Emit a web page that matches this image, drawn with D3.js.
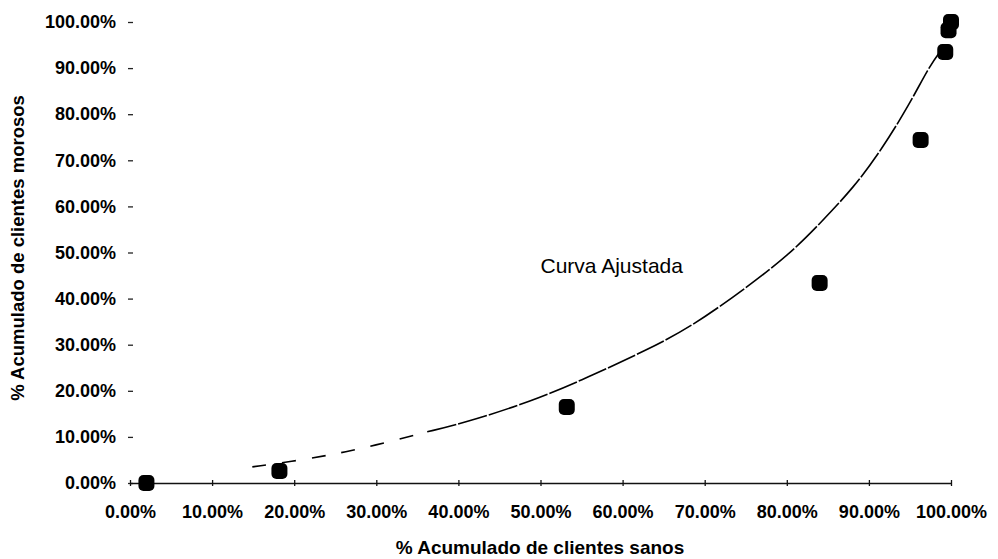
<!DOCTYPE html>
<html>
<head>
<meta charset="utf-8">
<script src="https://cdn.jsdelivr.net/npm/d3@7"></script>
<style>
  body { margin: 0; background: #fff; }
  text { font-family: "Liberation Sans", Arial, sans-serif; fill: #000; }
  .axis text { font-size: 18px; font-weight: bold; }
  .axis-title { font-weight: bold; }
</style>
</head>
<body>
<script>
  // observed points (cumulative share of healthy vs. delinquent clients)
  var sanos   = [0.020, 0.182, 0.532, 0.840, 0.963, 0.993, 0.997, 1.000];
  var morosos = [0.000, 0.026, 0.165, 0.434, 0.744, 0.935, 0.982, 1.000];

  // fitted curve
  var curvaX = [0.149, 0.210, 0.256, 0.295, 0.362, 0.406, 0.488, 0.559, 0.630, 0.683,
                0.752, 0.805, 0.841, 0.882, 0.915, 0.949, 0.973, 0.988];
  var curvaY = [0.035, 0.050, 0.065, 0.080, 0.111, 0.130, 0.176, 0.230, 0.289, 0.338,
                0.425, 0.499, 0.564, 0.642, 0.722, 0.820, 0.902, 0.939];

  var ticks = [0, 0.1, 0.2, 0.3, 0.4, 0.5, 0.6, 0.7, 0.8, 0.9, 1];

  var w = 998;
  var h = 559;

  var margin = {
    top: 22,
    bottom: 76,
    left: 130,
    right: 47
  };

  var width = w - margin.left - margin.right;
  var height = h - margin.top - margin.bottom;

  var svg = d3.select("body").append("svg")
              .attr("width", w)
              .attr("height", h);

  var chart = svg.append("g")
              .attr("transform", "translate(" + margin.left + "," + margin.top + ")");

  var x = d3.scaleLinear().domain([0, 1]).range([0, width]);
  var y = d3.scaleLinear().domain([0, 1]).range([height, 0]);

  var pct = d3.format(".2%");

  // y axis: only small ticks are visible, no line
  var yAxis = chart.append("g")
      .attr("class", "axis")
      .call(d3.axisLeft(y).tickValues(ticks).tickFormat(pct).tickSize(0).tickPadding(14));
  yAxis.select(".domain").remove();
  yAxis.selectAll(".tick line")
      .attr("x1", -2).attr("x2", 3)
      .attr("stroke", "#222").attr("stroke-width", 1.3);

  // x axis
  var xAxis = chart.append("g")
      .attr("class", "axis")
      .attr("transform", "translate(0," + height + ")")
      .call(d3.axisBottom(x).tickValues(ticks).tickFormat(pct).tickSize(0).tickPadding(22));
  xAxis.select(".domain")
      .attr("stroke", "#111").attr("stroke-width", 1.6);
  xAxis.selectAll(".tick line")
      .attr("y1", -3).attr("y2", 3)
      .attr("stroke", "#111").attr("stroke-width", 1.3);

  // fitted curve
  var curva = curvaX.map(function(d, i){ return {x: d, y: curvaY[i]}; });
  var line = d3.line()
      .x(function(d){ return x(d.x); })
      .y(function(d){ return y(d.y); })
      .curve(d3.curveBasis);

  chart.append("path")
      .datum(curva.slice(0, 5))
      .attr("d", line)
      .attr("fill", "none")
      .attr("stroke", "#000")
      .attr("stroke-width", 1.6)
      .attr("stroke-dasharray", "14,16");

  chart.append("path")
      .datum(curva.slice(4))
      .attr("d", line)
      .attr("fill", "none")
      .attr("stroke", "#000")
      .attr("stroke-width", 1.6)
      .attr("stroke-dasharray", "30,2");

  // observed points
  chart.selectAll(".point")
      .data(sanos)
      .enter()
        .append("rect")
        .attr("class", "point")
        .attr("x", function(d){ return x(d) - 8; })
        .attr("y", function(d, i){ return y(morosos[i]) - 8; })
        .attr("width", 16)
        .attr("height", 16)
        .attr("rx", 5)
        .attr("fill", "#000");

  chart.append("text")
      .attr("x", x(0.50))
      .attr("y", y(0.455))
      .attr("font-size", 21)
      .text("Curva Ajustada");

  svg.append("text")
      .attr("class", "axis-title")
      .attr("text-anchor", "middle")
      .attr("font-size", 19)
      .attr("x", 540)
      .attr("y", 554)
      .text("% Acumulado de clientes sanos");

  svg.append("text")
      .attr("class", "axis-title")
      .attr("text-anchor", "middle")
      .attr("font-size", 18.5)
      .attr("transform", "translate(24,248) rotate(-90)")
      .text("% Acumulado de clientes morosos");
</script>
</body>
</html>
